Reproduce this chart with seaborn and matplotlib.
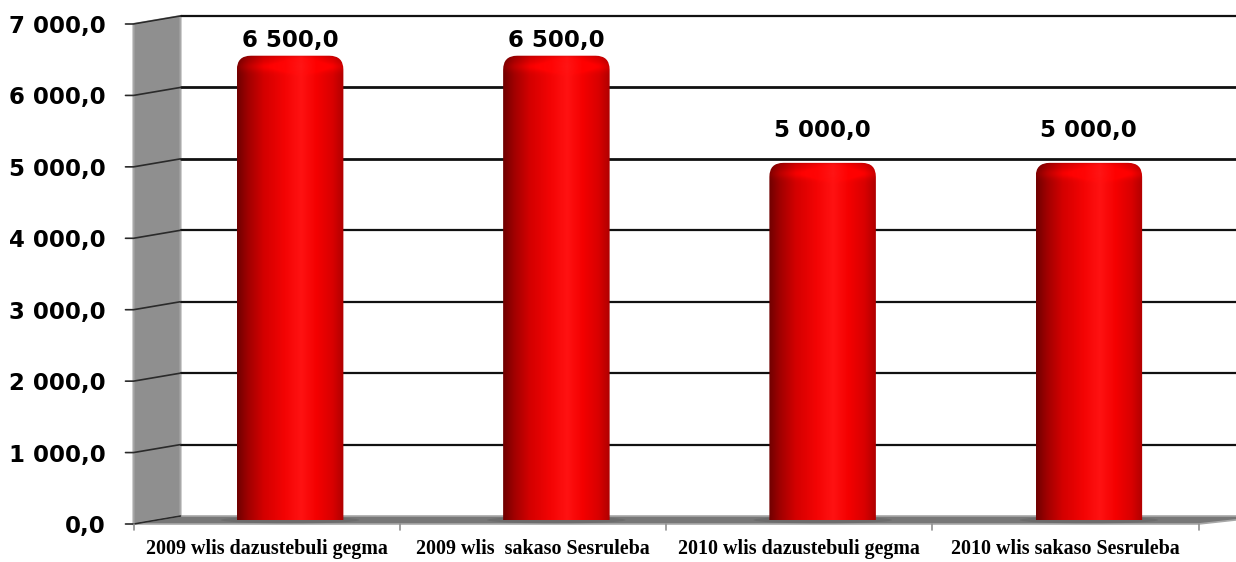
import numpy as np
import pandas as pd
import seaborn as sns
import matplotlib
matplotlib.use("Agg")
import matplotlib.pyplot as plt
from matplotlib.colors import LinearSegmentedColormap
from matplotlib.patches import FancyBboxPatch, Polygon, Ellipse
from matplotlib.transforms import ScaledTranslation, IdentityTransform

categories = ["2009 wlis dazustebuli gegma", "2009 wlis  sakaso Sesruleba",
              "2010 wlis dazustebuli gegma", "2010 wlis sakaso Sesruleba"]
values = [6500.0, 6500.0, 5000.0, 5000.0]
yticks = [0, 1000, 2000, 3000, 4000, 5000, 6000, 7000]
ytick_labels = ["0,0", "1 000,0", "2 000,0", "3 000,0", "4 000,0", "5 000,0", "6 000,0", "7 000,0"]

# gap (points) between bar top and its value label, as placed in the original
label_gap = [6, 6, 18.5, 18.5]


def fmt(v):
    s = f"{v:,.1f}"
    return s.replace(",", " ").replace(".", ",")


def main():
    sns.set_style("white")
    fig = plt.figure(figsize=(12.36, 5.62), dpi=100)
    W, H = 1236, 562
    # axes = middle of the 3d depth
    ax = fig.add_axes([157 / W, 42 / H, 1065 / W, 500 / H])
    df = pd.DataFrame({"cat": categories, "val": values})
    sns.barplot(data=df, x="cat", y="val", width=0.4, color="red", ax=ax, zorder=3)
    ax.set_xlim(-0.5, 3.5)
    ax.set_ylim(0, 7000)
    for s in ax.spines.values():
        s.set_visible(False)
    ax.set_xlabel("")
    ax.set_ylabel("")
    ax.patch.set_alpha(0)

    dx, dy = 0.235, 0.04
    back = ax.transData + ScaledTranslation(dx, dy, fig.dpi_scale_trans)
    front = ax.transData + ScaledTranslation(-dx, -dy, fig.dpi_scale_trans)

    # back gridlines
    for v in yticks[1:]:
        lw = 2.0 if v in (5000, 6000) else 1.6
        ax.plot([-0.5, 3.6], [v, v], transform=back, color="#111111", lw=lw,
                clip_on=False, zorder=1)

    fig.canvas.draw()

    def disp(tr, x, y):
        return tr.transform((x, y))

    # side wall
    wall = [disp(front, -0.5, 0), disp(front, -0.5, 7000),
            disp(back, -0.5, 7000), disp(back, -0.5, 0)]
    fig.add_artist(Polygon(wall, closed=True, transform=IdentityTransform(),
                           facecolor="#8f8f8f", edgecolor="#a8a8a8", lw=1.5, zorder=0))
    # floor
    floor = [disp(front, -0.5, 0), disp(front, 3.5, 0),
             disp(back, 3.6, 0), disp(back, -0.5, 0)]
    fig.add_artist(Polygon(floor, closed=True, transform=IdentityTransform(),
                           facecolor="#777777", edgecolor="#a8a8a8", lw=1.2, zorder=0))

    # wall tick connectors and front ticks
    for v in yticks:
        f = disp(front, -0.5, v)
        b = disp(back, -0.5, v)
        fig.add_artist(plt.Line2D([f[0] - 8, f[0], b[0]], [f[1], f[1], b[1]],
                                  transform=IdentityTransform(), color="#2a2a2a", lw=1.2, zorder=1))
    # category boundary ticks
    for x in [-0.5, 0.5, 1.5, 2.5, 3.5]:
        f = disp(front, x, 0)
        fig.add_artist(plt.Line2D([f[0], f[0]], [f[1], f[1] - 6],
                                  transform=IdentityTransform(), color="#909090", lw=1.2, zorder=1))

    # tick labels
    ax.set_yticks(yticks)
    ax.set_yticklabels(ytick_labels)
    ax.tick_params(axis="y", length=0, pad=20, labelsize=16.5, labelcolor="black")
    for t in ax.get_yticklabels():
        t.set_fontweight("bold")
        t.set_transform(t.get_transform() + ScaledTranslation(-dx, -dy, fig.dpi_scale_trans))
    ax.set_xticks(range(len(categories)))
    ax.set_xticklabels(categories)
    ax.tick_params(axis="x", length=0, pad=11, labelcolor="black")
    for t in ax.get_xticklabels():
        t.set_fontfamily("Liberation Serif")
        t.set_fontweight("bold")
        t.set_fontsize(14.4)
        t.set_transform(t.get_transform() + ScaledTranslation(-dx, -dy, fig.dpi_scale_trans))

    # cylinder look for bars
    cmap = LinearSegmentedColormap.from_list("cyl", [
        (0.0, "#700000"), (0.1, "#a00000"), (0.25, "#d40000"), (0.45, "#f40404"),
        (0.6, "#ff1212"), (0.75, "#f40000"), (0.9, "#d80000"), (1.0, "#b00000")])
    px_per_x = 1065 / 4.0
    px_per_y = 500 / 7000.0
    r_px = 14
    for i, p in enumerate(list(ax.patches)):
        x0, w, h = p.get_x(), p.get_width(), p.get_height()
        p.set_visible(False)
        shape = FancyBboxPatch((x0, -600), w, h + 600,
                               boxstyle=f"round,pad=0,rounding_size={r_px / px_per_x}",
                               mutation_aspect=px_per_x / px_per_y,
                               facecolor="none", edgecolor="none", transform=ax.transData)
        ax.add_patch(shape)
        nx = 200
        ny = int(h * px_per_y)
        t = np.linspace(0, 1, nx)
        row = cmap(t)[:, :3]
        img = np.tile(row, (ny, 1, 1))
        d = np.arange(ny)[:, None]  # px from top
        shade = 1.0 + 0.15 * np.exp(-((d - 11) / 5.0) ** 2) - 0.08 * np.exp(-(d / 2.0) ** 2)
        img = np.clip(img * shade[:, :, None], 0, 1)
        im = ax.imshow(img, extent=[x0, x0 + w, 0, h], aspect="auto", zorder=3,
                       interpolation="bilinear")
        im.set_clip_path(shape)
        ax.add_patch(Ellipse((x0 + w / 2, 0), w * 1.3, 7 / px_per_y, facecolor="#555555",
                             alpha=0.3, edgecolor="none", zorder=2, clip_on=False))
        ax.annotate(fmt(h), (x0 + w / 2, h), xytext=(0, label_gap[i]), textcoords="offset points",
                    ha="center", va="baseline", fontsize=16.5, fontweight="bold",
                    color="black", zorder=5)

    ax.set_xlim(-0.5, 3.5)
    ax.set_ylim(0, 7000)
    fig.savefig("out.png", dpi=100)


if __name__ == "__main__":
    main()
